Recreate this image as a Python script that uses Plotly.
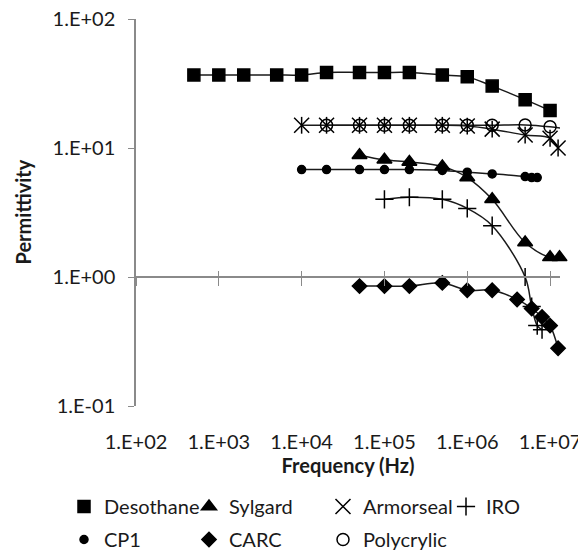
import plotly.graph_objects as go

# ---------------- data ----------------
desothane_f = [5e2, 1e3, 2e3, 5e3, 1e4, 2e4, 5e4, 1e5, 2e5, 5e5, 1e6, 2e6, 5e6, 1e7]
desothane_e = [36.8, 36.8, 36.8, 36.8, 36.8, 38.5, 38.5, 38.5, 38.5, 36.8, 35.6, 30.2, 23.7, 19.5]

sylgard_f = [5e4, 1e5, 2e5, 5e5, 1e6, 2e6, 5e6, 1e7, 1.3e7]
sylgard_e = [8.8, 8.1, 7.8, 7.2, 5.9, 4.0, 1.85, 1.42, 1.42]

armorseal_f = [1e4, 2e4, 5e4, 1e5, 2e5, 5e5, 1e6, 2e6, 5e6, 1e7, 1.25e7]
armorseal_e = [15.0, 15.0, 15.0, 15.0, 15.0, 15.0, 14.8, 14.0, 12.6, 11.9, 10.0]

iro_f = [1e5, 2e5, 5e5, 1e6, 2e6, 5e6, 6e6, 7e6, 8e6]
iro_e = [4.0, 4.15, 4.0, 3.4, 2.5, 1.0, 0.59, 0.42, 0.39]

cp1_f = [1e4, 2e4, 5e4, 1e5, 2e5, 5e5, 1e6, 2e6, 5e6, 6e6, 7e6]
cp1_e = [6.8, 6.8, 6.8, 6.8, 6.8, 6.7, 6.5, 6.3, 6.0, 5.9, 5.9]

carc_f = [5e4, 1e5, 2e5, 5e5, 1e6, 2e6, 4e6, 6e6, 8e6, 1e7, 1.25e7]
carc_e = [0.85, 0.85, 0.85, 0.90, 0.79, 0.79, 0.67, 0.57, 0.49, 0.42, 0.28]

polycrylic_f = [2e4, 5e4, 1e5, 2e5, 5e5, 1e6, 2e6, 5e6, 1e7, 1.4e7]
polycrylic_e = [15.0, 15.0, 15.0, 15.0, 15.0, 15.0, 15.0, 15.1, 14.6, 14.2]

x_tick_vals = [1e2, 1e3, 1e4, 1e5, 1e6, 1e7]
x_tick_text = ["1.E+02", "1.E+03", "1.E+04", "1.E+05", "1.E+06", "1.E+07"]
y_tick_vals = [0.1, 1, 10, 100]
y_tick_text = ["1.E-01", "1.E+00", "1.E+01", "1.E+02"]

# ---------------- styling ----------------
FONT = "Lato"
FS = 20
TXT = "#1a1a1a"
AX = "#8a8a8a"
LINE = "#1a1a1a"
X_RANGE = [2, 7.12]
Y_RANGE = [-1, 2]
# the page body has an 8px margin, so the figure is drawn 8px smaller
W, H = 578, 544
ML, MR, MT, MB = 128, 26, 11, 146
PLOT_W = W - ML - MR

series = [
    # name, f, e, symbol, size, legend
    ("Desothane", desothane_f, desothane_e, "square", 12, "legend"),
    ("Sylgard", sylgard_f, sylgard_e, "triangle-up", 13, "legend2"),
    ("Armorseal", armorseal_f, armorseal_e, "x-thin-open", 15, "legend3"),
    ("IRO", iro_f, iro_e, "cross-thin-open", 13, "legend4"),
    ("CP1", cp1_f, cp1_e, "circle", 8, "legend"),
    ("CARC", carc_f, carc_e, "diamond", 11, "legend2"),
    ("Polycrylic", polycrylic_f, polycrylic_e, "circle-open", 12, "legend3"),
]

fig = go.Figure()

# smoothed connecting lines (no legend)
for name, f, e, sym, size, leg in series:
    fig.add_trace(go.Scatter(
        x=f, y=e, mode="lines", name=name, showlegend=False,
        line=dict(color=LINE, width=1.5, shape="spline", smoothing=1.0),
        legendgroup=name, cliponaxis=False, hoverinfo="skip",
    ))

# markers (with legend)
for name, f, e, sym, size, leg in series:
    fig.add_trace(go.Scatter(
        x=f, y=e, mode="markers", name=name, legend=leg, legendgroup=name,
        marker=dict(symbol=sym, size=size, color="black",
                    line=dict(color="black", width=1.5)),
        cliponaxis=False,
    ))
    if name == "Armorseal":
        # vertical stroke to complete the star marker
        fig.add_trace(go.Scatter(
            x=f, y=e, mode="markers", name=name, showlegend=False,
            legendgroup=name,
            marker=dict(symbol="line-ns-open", size=12, color="black",
                        line=dict(color="black", width=1.5)),
            cliponaxis=False, hoverinfo="skip",
        ))

# dummy traces so the crossing axis at y = 1 is drawn
for xa in ("x2", "x3"):
    fig.add_trace(go.Scatter(x=[None], y=[None], xaxis=xa, showlegend=False,
                             hoverinfo="skip"))

fig.update_layout(
    width=W, height=H,
    margin=dict(l=ML, r=MR, t=MT, b=MB, autoexpand=False),
    plot_bgcolor="white", paper_bgcolor="white",
    font=dict(family=FONT, size=FS, color=TXT),
    xaxis=dict(
        type="log", range=X_RANGE, tickmode="array",
        tickvals=x_tick_vals, ticktext=x_tick_text,
        showline=False, showgrid=False, zeroline=False, ticks="",
        ticklabelstandoff=22, automargin=False, ticklabeloverflow="allow",
        title=dict(text="Frequency (Hz)", standoff=5,
                   font=dict(family=FONT, size=FS, color=TXT, weight="bold")),
    ),
    xaxis2=dict(
        type="log", range=X_RANGE, overlaying="x", anchor="free",
        position=1 / 3, tickmode="array", tickvals=x_tick_vals,
        showticklabels=False, showline=True, linecolor=AX, linewidth=1.5,
        ticks="outside", ticklen=8, tickwidth=1.3, tickcolor=AX,
        showgrid=False, zeroline=False, automargin=False,
    ),
    xaxis3=dict(
        type="log", range=X_RANGE, overlaying="x", anchor="free",
        position=1 / 3, tickmode="array", tickvals=x_tick_vals,
        showticklabels=False, showline=False,
        ticks="inside", ticklen=6, tickwidth=1.3, tickcolor=AX,
        showgrid=False, zeroline=False, automargin=False,
    ),
    yaxis=dict(
        type="log", range=Y_RANGE, tickmode="array",
        tickvals=y_tick_vals, ticktext=y_tick_text,
        showline=True, linecolor=AX, linewidth=1.5,
        ticks="outside", ticklen=6, tickwidth=1.3, tickcolor=AX,
        showgrid=False, zeroline=False, ticklabelstandoff=9, automargin=False,
        ticklabeloverflow="allow",
    ),
    annotations=[dict(
        text="Permittivity", textangle=-90, showarrow=False,
        xref="paper", yref="paper", x=(14 - ML) / PLOT_W, y=0.5,
        xanchor="center", yanchor="middle",
        font=dict(family=FONT, size=FS, color=TXT, weight="bold"),
    )],
)

leg_common = dict(orientation="v", xref="container", yref="container",
                  xanchor="left", yanchor="top", traceorder="grouped",
                  tracegroupgap=4, bgcolor="rgba(0,0,0,0)",
                  font=dict(family=FONT, size=FS, color=TXT))
legend_cols = {"legend": 56, "legend2": 181, "legend3": 315, "legend4": 438}
for key, px in legend_cols.items():
    fig.update_layout({key: dict(leg_common, x=px / W, y=(H - 479) / H)})

fig.write_html("out.html")
